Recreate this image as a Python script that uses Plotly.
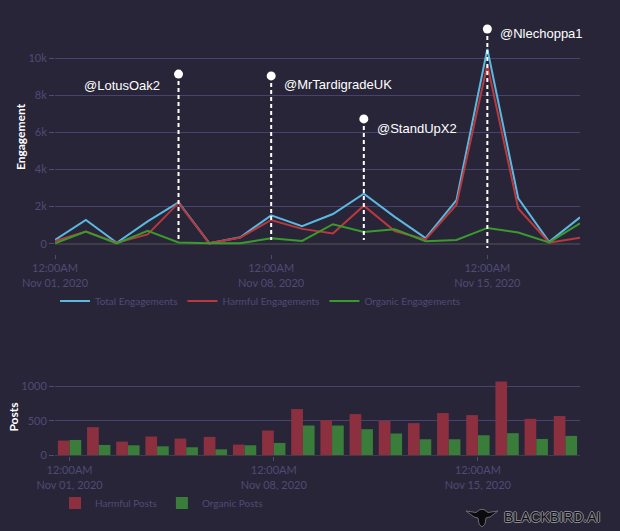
import plotly.graph_objects as go

# ---------------- data ----------------
days = ["2020-11-%02d" % d for d in range(1, 19)]

total_engagements = [200, 1280, 50, 1200, 2230, 20, 350, 1530, 950, 1600, 2700, 1450, 300, 2350, 10500, 2450, 100, 1420]
harmful_engagements = [150, 650, 50, 500, 2200, 20, 330, 1280, 800, 550, 2050, 680, 230, 2100, 9650, 1900, 50, 320]
organic_engagements = [20, 650, 20, 700, 70, 20, 20, 300, 150, 1050, 630, 780, 130, 200, 850, 600, 70, 1100]

harmful_posts = [211, 407, 196, 270, 240, 265, 152, 358, 672, 510, 598, 500, 466, 613, 583, 1074, 529, 569]
organic_posts = [220, 147, 142, 127, 113, 83, 142, 176, 431, 431, 377, 314, 230, 230, 289, 319, 235, 279]

handles = ["@LotusOak2", "@MrTardigradeUK", "@StandUpX2", "@Nlechoppa1"]
handle_days = ["2020-11-05", "2020-11-08", "2020-11-11", "2020-11-15"]
pin_levels = [9150, 9050, 6730, 11580]
line_floor = [200, 200, 200, -230]

tick_days = ["2020-11-01", "2020-11-08", "2020-11-15"]
tick_text = ["12:00AM<br>Nov 01, 2020", "12:00AM<br>Nov 08, 2020", "12:00AM<br>Nov 15, 2020"]
eng_ticks = [0, 2000, 4000, 6000, 8000, 10000]
eng_tick_text = ["0", "2k", "4k", "6k", "8k", "10k"]
post_ticks = [0, 500, 1000]

# ---------------- style ----------------
W, H = 620, 531
ML, MR = 55, 40
BG = "#282539"
GRID = "#47426e"
TICKC = "#4f4b74"
FONT = "Lato, 'Noto Sans', sans-serif"

def py(p):  # pixel row -> paper y
    return 1 - p / H

def px(p):  # pixel col -> paper x
    return (p - ML) / (W - ML - MR)

fig = go.Figure()

line_styles = [("Total Engagements", total_engagements, "#5bb8df"),
               ("Harmful Engagements", harmful_engagements, "#b8393e"),
               ("Organic Engagements", organic_engagements, "#3b9a2c")]
for name, vals, col in line_styles:
    fig.add_trace(go.Scatter(x=days, y=vals, name=name, mode="lines",
                             line=dict(color=col, width=2),
                             xaxis="x", yaxis="y", legend="legend"))

# pins (dashed lines + white heads)
for d, lvl, fl in zip(handle_days, pin_levels, line_floor):
    fig.add_shape(type="line", xref="x", yref="y", x0=d, x1=d, y0=lvl, y1=fl,
                  line=dict(color="white", width=2, dash="4px,3px"))
fig.add_trace(go.Scatter(x=handle_days, y=pin_levels, mode="markers",
                         marker=dict(color="white", size=9), showlegend=False,
                         hoverinfo="skip", xaxis="x", yaxis="y"))

label_side = ["left", "right", "right", "right"]
label_dy = [-11, -9, -10, -4]
for h, d, lvl, side, dy in zip(handles, handle_days, pin_levels, label_side, label_dy):
    fig.add_annotation(x=d, y=lvl, xref="x", yref="y", text=h, showarrow=False,
                       xanchor="right" if side == "left" else "left",
                       xshift=-17 if side == "left" else 11, yshift=dy,
                       font=dict(family="'Liberation Sans', Arial, sans-serif", size=13, color="white"))

# bars
fig.add_trace(go.Bar(x=days, y=harmful_posts, name="Harmful Posts",
                     marker=dict(color="#8c3040", line=dict(width=0)),
                     xaxis="x2", yaxis="y2", legend="legend2"))
fig.add_trace(go.Bar(x=days, y=organic_posts, name="Organic Posts",
                     marker=dict(color="#3a7d3a", line=dict(width=0)),
                     xaxis="x2", yaxis="y2", legend="legend2"))

axis_common = dict(showline=False, tickfont=dict(family=FONT, size=11, color=TICKC))

fig.update_layout(
    width=W, height=H,
    margin=dict(l=ML, r=MR, t=0, b=0, autoexpand=False),
    paper_bgcolor=BG, plot_bgcolor=BG,
    font=dict(family=FONT, color=TICKC),
    barmode="group", bargap=0.2, bargroupgap=0,
    xaxis=dict(domain=[0, 1], anchor="y", type="date",
               range=["2020-11-01", "2020-11-18"],
               tickvals=tick_days, ticktext=tick_text,
               ticks="outside", ticklen=4, tickcolor=TICKC,
               showgrid=False, zeroline=False, **axis_common),
    yaxis=dict(domain=[py(254), py(20)], anchor="x",
               range=[-(254 - 243.7) / 18.54 * 1000, (243.7 - 20) / 18.54 * 1000],
               tickvals=eng_ticks, ticktext=eng_tick_text,
               ticks="outside", ticklen=5, tickcolor=TICKC,
               showgrid=True, gridcolor=GRID, gridwidth=1,
               zeroline=True, zerolinecolor="#3e3c48", zerolinewidth=2,
               title=dict(text="Engagement", standoff=0,
                          font=dict(family=FONT, size=12, color="white", weight="bold")),
               **axis_common),
    xaxis2=dict(domain=[0, 1], anchor="y2", type="date",
                range=["2020-10-31 12:00", "2020-11-18 12:00"],
                tickvals=tick_days, ticktext=tick_text,
                ticks="outside", ticklen=4, tickcolor=TICKC,
                showgrid=False, zeroline=False, **axis_common),
    yaxis2=dict(domain=[py(456), py(378)], anchor="x2",
                range=[-(456 - 455) / 0.0684, (455 - 378) / 0.0684],
                tickvals=post_ticks,
                ticks="outside", ticklen=5, tickcolor=TICKC,
                showgrid=True, gridcolor=GRID, gridwidth=1,
                zeroline=True, zerolinecolor="#3e3c48", zerolinewidth=1,
                title=dict(text="Posts", standoff=0,
                           font=dict(family=FONT, size=12, color="white", weight="bold")),
                **axis_common),
    legend=dict(orientation="h", x=0, xanchor="left",
                y=py(301), yanchor="middle",
                font=dict(family=FONT, size=10, color=TICKC), bgcolor="rgba(0,0,0,0)",
                itemwidth=30),
    legend2=dict(orientation="h", x=0, xanchor="left",
                 y=py(503), yanchor="middle",
                 font=dict(family=FONT, size=10, color=TICKC), bgcolor="rgba(0,0,0,0)",
                 itemwidth=30),
    showlegend=True,
)

# logo
bird = [(466, 511), (476, 512.5), (480, 509.5), (484, 509.5), (488, 512.5), (498, 511),
        (490, 517), (486, 518), (485, 524), (482, 527), (479, 524), (478, 518), (474, 517)]
path = "M " + " L ".join("%.4f,%.4f" % (px(a), py(b)) for a, b in bird) + " Z"
fig.add_shape(type="path", xref="paper", yref="paper", path=path,
              fillcolor="#0c0c10", line=dict(color="#6a6a70", width=1))
fig.add_annotation(x=px(502), y=py(517), xref="paper", yref="paper", xanchor="left",
                   yanchor="middle", showarrow=False, text="BLACKBIRD.AI",
                   font=dict(family="'Liberation Sans', Arial, sans-serif", size=14, color="#0c0c10",
                             shadow="1px 0 0 #8a8a90, -1px 0 0 #8a8a90, 0 1px 0 #8a8a90, 0 -1px 0 #8a8a90"))

fig.write_html("out.html", config={"displayModeBar": False},
               post_script="document.body.style.margin='0';document.body.style.background='%s';" % BG)
